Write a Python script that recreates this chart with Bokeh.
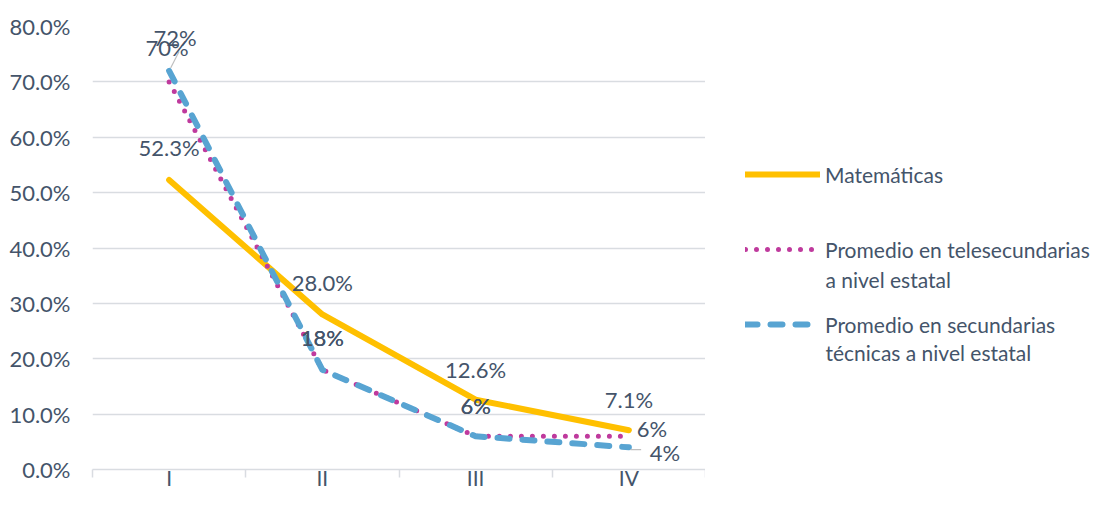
from bokeh.plotting import figure
from bokeh.layouts import row
from bokeh.models import (ColumnDataSource, Range1d, FixedTicker, NumeralTickFormatter,
                          Legend, LegendItem, LabelSet, Label)
from bokeh.core.properties import value
from bokeh.embed import file_html
from bokeh.resources import INLINE

# ---------------- data ----------------
categories = ["I", "II", "III", "IV"]
matematicas = [0.523, 0.280, 0.126, 0.071]
telesecundarias = [0.70, 0.18, 0.06, 0.06]
tecnicas = [0.72, 0.18, 0.06, 0.04]
y_ticks = [0.0, 0.1, 0.2, 0.3, 0.4, 0.5, 0.6, 0.7, 0.8]
series_names = ["Matemáticas", "Promedio en telesecundarias", "Promedio en secundarias"]
series_second_lines = ["a nivel estatal", "técnicas a nivel estatal"]

# ---------------- style ----------------
FONT = "Lato"
FS = "22px"
LFS = "21px"
CFS = "21px"
TEXT = "#44546A"
GRID = "#D9DCE1"
C_MAT = "#FFC000"
C_TEL = "#BF3A9D"
C_TEC = "#58A4D2"

MAIN_W = 705
TOTAL_W, TOTAL_H = 1093, 492

# label offsets (screen px, up positive)
mat_dx = [0, 0, 0, 0]
mat_dy = [32, 32, 30, 31]
tel_dx = [-2, 0, 0, 23]
tel_dy = [34, 32, 31, 8]
tec_dx = [6, 0, 0, 36]
tec_dy = [33, 32, 31, -5]

x = list(range(1, len(categories) + 1))
bounds = [i + 0.5 for i in range(0, len(categories) + 1)]

# ---------------- main plot ----------------
p = figure(width=MAIN_W, height=TOTAL_H, output_backend="svg", toolbar_location=None,
           x_range=Range1d(0.5, len(categories) + 0.5), y_range=Range1d(0, 0.8),
           min_border_left=92, min_border_right=0, min_border_top=26, min_border_bottom=22)
p.outline_line_color = None
p.xgrid.visible = False
p.ygrid.ticker = FixedTicker(ticks=y_ticks)
p.ygrid.grid_line_color = GRID
p.ygrid.grid_line_width = 1.5

ya = p.yaxis[0]
ya.ticker = FixedTicker(ticks=y_ticks)
ya.formatter = NumeralTickFormatter(format="0.0%")
ya.axis_line_color = None
ya.major_tick_line_color = None
ya.minor_tick_line_color = None
ya.major_tick_out = 0
ya.major_tick_in = 0
ya.major_label_text_font = FONT
ya.major_label_text_font_size = FS
ya.major_label_text_color = TEXT
ya.major_label_standoff = 22

xa = p.xaxis[0]
xa.ticker = FixedTicker(ticks=x, minor_ticks=bounds)
xa.major_label_overrides = {xi: c for xi, c in zip(x, categories)}
xa.major_tick_line_color = None
xa.major_tick_out = 0
xa.major_tick_in = 0
xa.minor_tick_line_color = GRID
xa.minor_tick_line_width = 1.5
xa.minor_tick_out = 8
xa.minor_tick_in = 0
xa.axis_line_color = GRID
xa.axis_line_width = 1.5
xa.major_label_text_font = FONT
xa.major_label_text_font_size = CFS
xa.major_label_text_color = TEXT
xa.major_label_standoff = -13

line_styles = [
    dict(line_color=C_MAT, line_width=6, line_cap="round", line_join="round"),
    dict(line_color=C_TEL, line_width=5, line_dash="0 11", line_cap="round", line_join="round"),
    dict(line_color=C_TEC, line_width=6, line_dash="12 13", line_cap="round", line_join="round"),
]
series = [matematicas, telesecundarias, tecnicas]

for s, st in zip(series, line_styles):
    p.line(x, s, **st)

# leader lines
p.segment(x0=[x[0] + 0.01], y0=[tecnicas[0] + 0.005], x1=[x[0] + 0.065], y1=[tecnicas[0] + 0.035],
          line_color="#BFBFBF", line_width=1.2)
p.segment(x0=[x[3] + 0.01], y0=[tecnicas[3] - 0.004], x1=[x[3] + 0.08], y1=[tecnicas[3] - 0.004],
          line_color="#BFBFBF", line_width=1.2)


def add_labels(vals, fmt, dx, dy):
    src = ColumnDataSource(dict(x=x, y=vals, t=[fmt.format(v * 100) for v in vals], dx=dx, dy=dy))
    p.add_layout(LabelSet(x="x", y="y", text="t", x_offset="dx", y_offset="dy", source=src,
                          text_align="center", text_baseline="middle", text_font=value(FONT),
                          text_font_size=value(FS), text_color=TEXT))


add_labels(matematicas, "{:.1f}%", mat_dx, mat_dy)
add_labels(telesecundarias, "{:.0f}%", tel_dx, tel_dy)
add_labels(tecnicas, "{:.0f}%", tec_dx, tec_dy)

# ---------------- legend panel (frame aligned with main plot) ----------------
leg_w = TOTAL_W - MAIN_W
pl = figure(width=leg_w, height=TOTAL_H, output_backend="svg", toolbar_location=None,
            x_range=Range1d(0, leg_w), y_range=Range1d(0, TOTAL_H),
            min_border_left=0, min_border_right=0, min_border_top=0, min_border_bottom=0)
pl.axis.visible = False
pl.grid.visible = False
pl.outline_line_color = None
dummies = [pl.line([x[0]], [s[0]], **st) for s, st in zip(series, line_styles)]

legend = Legend(items=[LegendItem(label=n, renderers=[r]) for n, r in zip(series_names, dummies)],
                location=(40, 131), orientation="vertical",
                glyph_width=75, glyph_height=28, label_height=28, label_standoff=5,
                spacing=47, padding=0, margin=0, border_line_color=None,
                background_fill_alpha=0, label_text_font=FONT, label_text_font_size=LFS,
                label_text_color=TEXT)
pl.add_layout(legend)

for txt, yy in zip(series_second_lines, [190, 117]):
    pl.add_layout(Label(x=120, y=yy, x_units="screen", y_units="screen", text=txt,
                        text_align="left", text_baseline="middle", text_font=FONT,
                        text_font_size=LFS, text_color=TEXT))

layout = row(p, pl)
open("out.html", "w").write(file_html(layout, INLINE))
